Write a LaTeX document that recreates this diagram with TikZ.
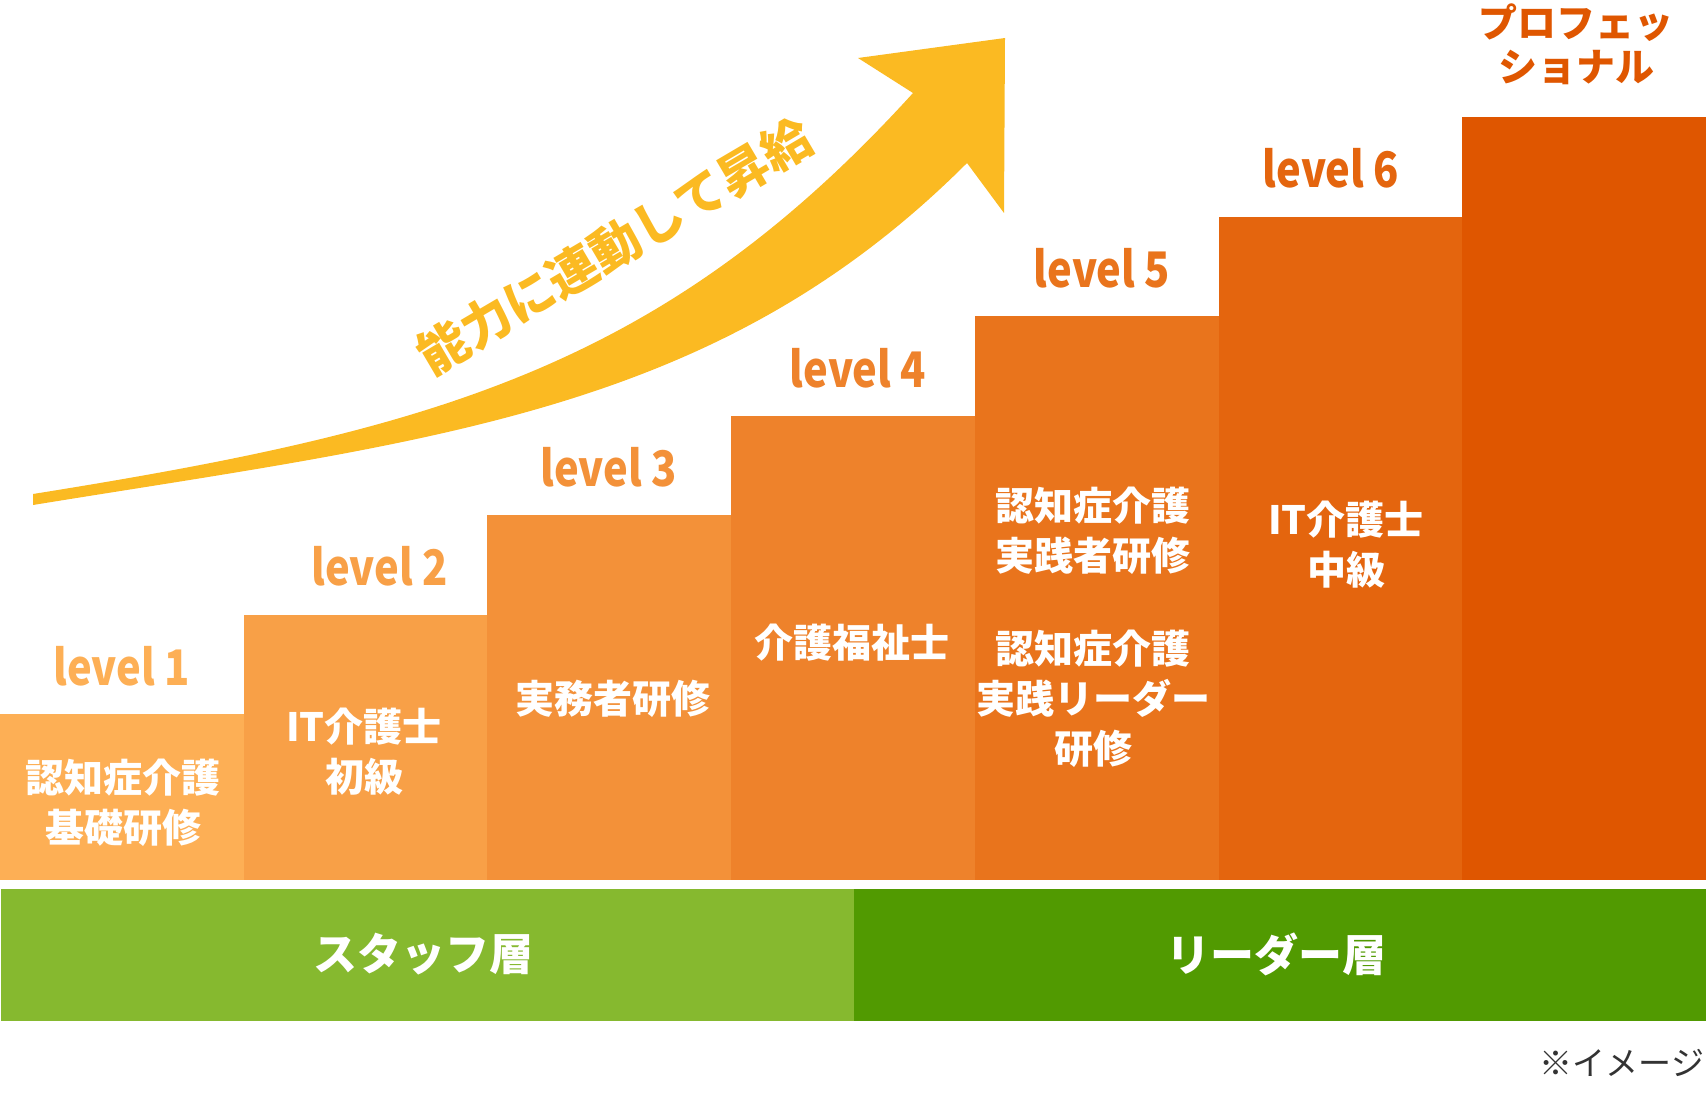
\documentclass[tikz,border=0pt]{standalone}
\usepackage{fontspec}
\setmainfont{Noto Sans CJK JP}
\definecolor{cA}{RGB}{253,175,85}
\definecolor{cB}{RGB}{248,160,71}
\definecolor{cC}{RGB}{243,145,57}
\definecolor{cD}{RGB}{238,130,43}
\definecolor{cE}{RGB}{233,116,28}
\definecolor{cF}{RGB}{228,101,14}
\definecolor{cG}{RGB}{223,86,0}
\definecolor{gLight}{RGB}{134,185,47}
\definecolor{gDark}{RGB}{81,154,1}
\definecolor{arrowY}{RGB}{251,186,34}
\definecolor{noteGray}{RGB}{51,51,51}
\begin{document}
\begin{tikzpicture}[x=1pt,y=-1pt,
  lvl/.style={font=\bfseries\fontsize{49}{49}\selectfont, anchor=base, inner sep=0pt, xscale=0.85},
  body/.style={text=white, font=\bfseries\fontsize{39}{50}\selectfont, align=center, inner sep=0pt},
  band/.style={text=white, font=\bfseries\fontsize{44}{50}\selectfont, inner sep=0pt}]
\useasboundingbox (0,0) rectangle (1708,1115);
% steps
\fill[cA] (0,714) rectangle (243.7,880);
\fill[cB] (243.7,614.5) rectangle (487.4,880);
\fill[cC] (487.4,515) rectangle (731.1,880);
\fill[cD] (731.1,416) rectangle (974.9,880);
\fill[cE] (974.9,316.5) rectangle (1218.6,880);
\fill[cF] (1218.6,217) rectangle (1462.3,880);
\fill[cG] (1462.3,117.5) rectangle (1706,880);
% green bands
\fill[gLight] (1,889) rectangle (854,1020.5);
\fill[gDark] (854,889) rectangle (1706,1020.5);
% arrow
\fill[arrowY] (33,494) .. controls (433,430) and (663,368) .. (913,93)
  -- (858,58) -- (1005,38) -- (1004,213) -- (967,163)
  .. controls (717,413) and (433,440) .. (33,505) -- cycle;
\node[text=arrowY, font=\bfseries\fontsize{50}{50}\selectfont, rotate=30.5, inner sep=0pt] (slogan) at (615,246) {能力に連動して昇給};
% level labels
\node[lvl, text=cA] (l1) at (122,685) {level 1};
\node[lvl, text=cB] (l2) at (380,585.5) {level 2};
\node[lvl, text=cC] (l3) at (609,486) {level 3};
\node[lvl, text=cD] (l4) at (858,387) {level 4};
\node[lvl, text=cE] (l5) at (1102,287.5) {level 5};
\node[lvl, text=cF] (l6) at (1331,188) {level 6};
\node[text=cG, font=\bfseries\fontsize{39}{44}\selectfont, align=center, inner sep=0pt] (l7) at (1576,44) {プロフェッ\\ショナル};
% column texts
\node[body] (t1) at (123,803) {認知症介護\\基礎研修};
\node[body] (t2) at (364,752) {IT介護士\\初級};
\node[body] (t3) at (613,699) {実務者研修};
\node[body] (t4) at (852,643) {介護福祉士};
\node[body] (t5a) at (1093,531) {認知症介護\\実践者研修};
\node[body] (t5b) at (1093,699) {認知症介護\\実践リーダー\\研修};
\node[body] (t6) at (1346,545) {IT介護士\\中級};
% band texts
\node[band] (staff) at (423,954) {スタッフ層};
\node[band] (leader) at (1276,954) {リーダー層};
% note
\node[text=noteGray, font=\fontsize{33}{33}\selectfont, inner sep=0pt] (note) at (1622,1063) {※イメージ};
\end{tikzpicture}
\end{document}
